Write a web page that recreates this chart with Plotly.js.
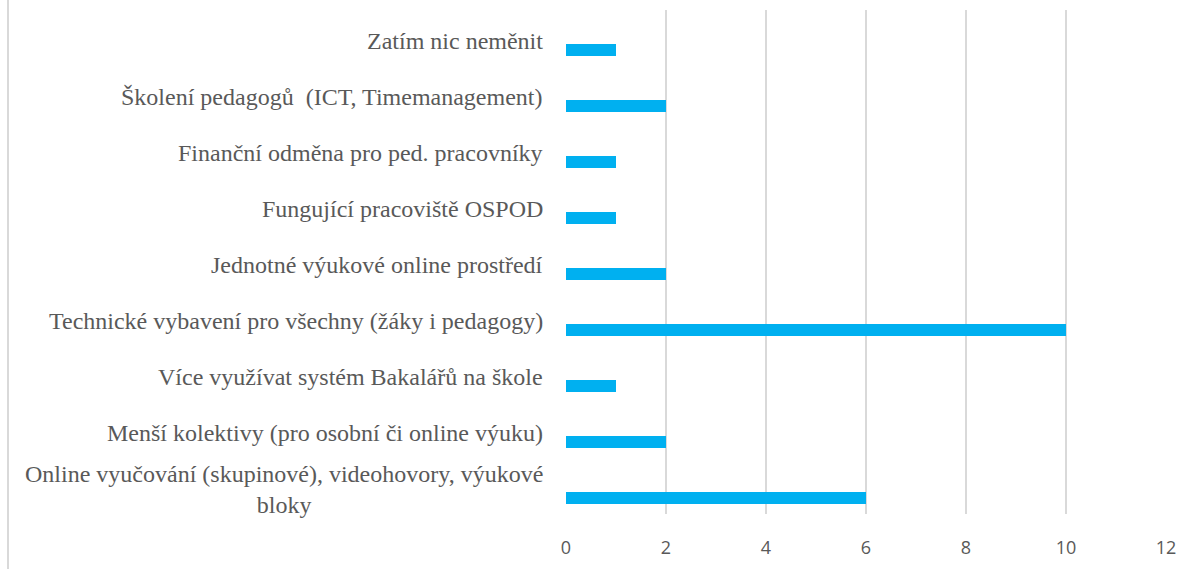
<!DOCTYPE html>
<html>
<head>
<meta charset="utf-8">
<script src="https://cdn.plot.ly/plotly-3.0.1.min.js"></script>
<style>html,body{margin:0;padding:0;background:#fff;}#chart{width:1198px;height:569px;}</style>
</head>
<body>
<div id="chart"></div>
<script>
// Categories listed bottom-to-top
const categories = [
  "Online vyučování (skupinové), videohovory, výukové bloky",
  "Menší kolektivy (pro osobní či online výuku)",
  "Více využívat systém Bakalářů na škole",
  "Technické vybavení pro všechny (žáky i pedagogy)",
  "Jednotné výukové online prostředí",
  "Fungující pracoviště OSPOD",
  "Finanční odměna pro ped. pracovníky",
  "Školení pedagogů  (ICT, Timemanagement)",
  "Zatím nic neměnit"
];
const labelText = [
  "Online vyučování (skupinové), videohovory, výukové<br>bloky",
  "Menší kolektivy (pro osobní či online výuku)",
  "Více využívat systém Bakalářů na škole",
  "Technické vybavení pro všechny (žáky i pedagogy)",
  "Jednotné výukové online prostředí",
  "Fungující pracoviště OSPOD",
  "Finanční odměna pro ped. pracovníky",
  "Školení pedagogů  (ICT, Timemanagement)",
  "Zatím nic neměnit"
];
const values = [6, 2, 1, 10, 2, 1, 1, 2, 1];
const xTicks = [0, 2, 4, 6, 8, 10, 12];

const trace = {
  type: 'bar',
  orientation: 'h',
  x: values,
  y: categories,
  marker: {color: '#00b0f0'},
  width: 0.214,
  offset: -0.321,
  hoverinfo: 'none'
};

const annotations = categories.map((c, i) => ({
  xref: 'x', yref: 'y',
  x: 0, y: c,
  xanchor: 'right', yanchor: 'middle',
  xshift: -21, yshift: -3,
  align: 'center',
  showarrow: false,
  text: labelText[i],
  font: {family: 'Liberation Serif, DejaVu Serif, serif', size: 24, color: '#595959'}
}));

const layout = {
  width: 1198, height: 569,
  margin: {l: 566, r: 32, t: 10, b: 55},
  paper_bgcolor: '#ffffff',
  plot_bgcolor: '#ffffff',
  showlegend: false,
  font: {family: 'Liberation Serif, DejaVu Serif, serif'},
  xaxis: {
    range: [0, 12],
    tickvals: xTicks,
    ticktext: xTicks.map(String),
    showgrid: true,
    gridcolor: '#d9d9d9',
    gridwidth: 1.5,
    zeroline: false,
    showline: false,
    ticks: 'outside',
    ticklen: 17,
    tickcolor: 'rgba(0,0,0,0)',
    tickfont: {family: 'Open Sans, Liberation Sans, sans-serif', size: 18, color: '#595959'},
    fixedrange: true
  },
  yaxis: {
    type: 'category',
    categoryorder: 'array',
    categoryarray: categories,
    range: [-0.5, 8.5],
    showticklabels: false,
    showgrid: false,
    zeroline: false,
    showline: false,
    ticks: '',
    fixedrange: true
  },
  annotations: annotations,
  shapes: [{
    type: 'line', xref: 'paper', yref: 'paper',
    x0: -0.93, x1: -0.93, y0: -0.12, y1: 1.03,
    line: {color: '#d9d9d9', width: 2}
  }]
};

Plotly.newPlot('chart', [trace], layout, {displayModeBar: false, staticPlot: true});
</script>
</body>
</html>
